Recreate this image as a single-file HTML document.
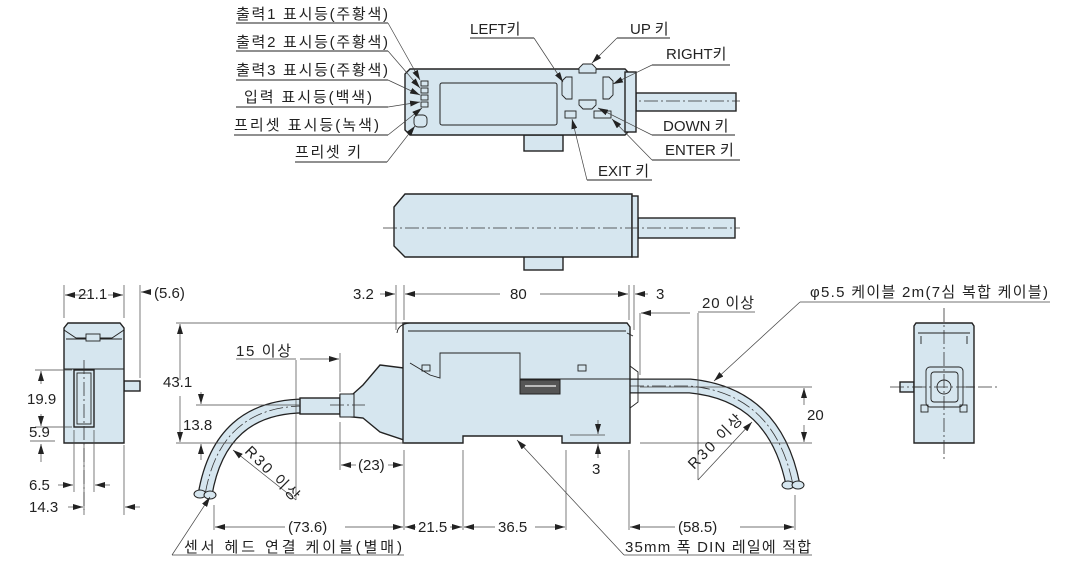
<!DOCTYPE html>
<html><head><meta charset="utf-8"><style>
html,body{margin:0;padding:0;background:#fff;}
svg{display:block;}
text{font-family:"Liberation Sans","Noto Sans CJK KR",sans-serif;font-size:15px;fill:#222;}
.b{fill:#d6e6ef;stroke:#222;stroke-width:1.4;}
.l{stroke:#222;stroke-width:0.9;fill:none;}
.t{stroke:#444;stroke-width:0.7;fill:none;}
.c{stroke:#333;stroke-width:0.8;fill:none;stroke-dasharray:14 3 2 3;}
.co{stroke:#222;stroke-width:15;fill:none;}
.ci{stroke:#d6e6ef;stroke-width:12.5;fill:none;}
</style></head><body>
<svg width="1083" height="581" viewBox="0 0 1083 581" xmlns="http://www.w3.org/2000/svg">
<defs><marker id="a" markerWidth="10" markerHeight="6" refX="10" refY="3" orient="auto" markerUnits="userSpaceOnUse"><path d="M0,0 L10,3 L0,6z" fill="#222"/></marker></defs>

<!-- TOP VIEW -->
<rect x="636" y="93" width="100" height="18" class="b"/>
<line x1="600" y1="101" x2="740" y2="101" class="c"/>
<rect x="524" y="135" width="39" height="16" class="b"/>
<path d="M410,69 L625,69 L628,72 L628,132 L625,135 L410,135 L405,130 L405,74 Z" class="b"/>
<rect x="625" y="72" width="11" height="60" class="b"/>
<rect x="440" y="83" width="117" height="42" rx="2" class="b" style="stroke-width:1"/>
<g class="b" style="stroke-width:0.9">
<rect x="421" y="81" width="7" height="5"/><rect x="421" y="88" width="7" height="5"/><rect x="421" y="95" width="7" height="5"/><rect x="421" y="102" width="7" height="5"/>
<rect x="414" y="115" width="13" height="12" rx="4"/>
<path d="M562,81 L566,77 L572,77 L572,99 L566,99 L562,95Z"/>
<path d="M613,81 L609,77 L603,77 L603,99 L609,99 L613,95Z"/>
<path d="M583,64 L592,64 L596,68 L596,73 L579,73 L579,68Z"/>
<path d="M579,100 L596,100 L596,105 L592,109 L583,109 L579,105Z"/>
<rect x="565" y="111" width="11" height="7"/><rect x="594" y="111" width="17" height="7"/>
</g>
<g>
<text x="236" y="19" textLength="152">출력1 표시등(주황색)</text><line x1="236" y1="23" x2="388" y2="23" class="l"/><line x1="388" y1="23" x2="420" y2="80" class="t" marker-end="url(#a)"/>
<text x="236" y="47" textLength="152">출력2 표시등(주황색)</text><line x1="236" y1="51" x2="388" y2="51" class="l"/><line x1="388" y1="51" x2="420" y2="88" class="t" marker-end="url(#a)"/>
<text x="236" y="75" textLength="152">출력3 표시등(주황색)</text><line x1="236" y1="80" x2="388" y2="80" class="l"/><line x1="388" y1="80" x2="420" y2="95" class="t" marker-end="url(#a)"/>
<text x="244" y="102" textLength="128">입력 표시등(백색)</text><line x1="236" y1="107" x2="388" y2="107" class="l"/><line x1="388" y1="107" x2="420" y2="102" class="t" marker-end="url(#a)"/>
<text x="234" y="130" textLength="145">프리셋 표시등(녹색)</text><line x1="234" y1="135" x2="388" y2="135" class="l"/><line x1="388" y1="135" x2="422" y2="108" class="t" marker-end="url(#a)"/>
<text x="295" y="157" textLength="66">프리셋 키</text><line x1="295" y1="162" x2="387" y2="162" class="l"/><line x1="387" y1="162" x2="415" y2="126" class="t" marker-end="url(#a)"/>
<text x="470" y="34">LEFT키</text><line x1="470" y1="38" x2="534" y2="38" class="l"/><line x1="534" y1="38" x2="563" y2="82" class="t" marker-end="url(#a)"/>
<text x="630" y="34">UP 키</text><line x1="617" y1="38" x2="670" y2="38" class="l"/><line x1="617" y1="38" x2="592" y2="63" class="t" marker-end="url(#a)"/>
<text x="666" y="59">RIGHT키</text><line x1="652" y1="65" x2="730" y2="65" class="l"/><line x1="652" y1="65" x2="613" y2="84" class="t" marker-end="url(#a)"/>
<text x="663" y="131">DOWN 키</text><line x1="652" y1="135" x2="735" y2="135" class="l"/><line x1="652" y1="135" x2="598" y2="108" class="t" marker-end="url(#a)"/>
<text x="665" y="155">ENTER 키</text><line x1="652" y1="160" x2="740" y2="160" class="l"/><line x1="652" y1="160" x2="612" y2="119" class="t" marker-end="url(#a)"/>
<text x="598" y="176">EXIT 키</text><line x1="587" y1="180" x2="652" y2="180" class="l"/><line x1="587" y1="180" x2="572" y2="119" class="t" marker-end="url(#a)"/>
</g>

<!-- SECOND VIEW -->
<rect x="638" y="218" width="97" height="20" class="b"/>
<rect x="524" y="255" width="39" height="15" class="b"/>
<path d="M405,194 L632,194 L632,257 L405,257 L394,246 L394,207 Z" class="b"/>
<rect x="632" y="196" width="6" height="61" class="b"/>
<line x1="383" y1="228" x2="740" y2="228" class="c"/>

<!-- LEFT VIEW -->
<rect x="124" y="381" width="16" height="10" class="b"/>
<path d="M68,323 L120,323 L124,328 L124,443 L64,443 L64,328Z" class="b"/>
<path d="M64,330 L76,338 L112,338 L124,330 M66,339 L122,339 M64,369 L124,369" class="l"/>
<rect x="86" y="334" width="14" height="7" class="b" style="stroke-width:0.9"/>
<rect x="74" y="370" width="20" height="57" class="b"/>
<rect x="77" y="373" width="14" height="51" class="l"/>
<line x1="84" y1="360" x2="84" y2="510" class="c"/>
<g class="t">
<line x1="64" y1="285" x2="64" y2="318"/><line x1="124" y1="285" x2="124" y2="318"/>
<line x1="88" y1="295" x2="65" y2="295" marker-end="url(#a)"/><line x1="108" y1="295" x2="123" y2="295" marker-end="url(#a)"/>
<line x1="140" y1="285" x2="140" y2="378"/><line x1="150" y1="292" x2="141" y2="292" marker-end="url(#a)"/>
<line x1="35" y1="370" x2="72" y2="370"/><line x1="35" y1="427" x2="72" y2="427"/>
<line x1="41" y1="384" x2="41" y2="371" marker-end="url(#a)"/><line x1="41" y1="414" x2="41" y2="426" marker-end="url(#a)"/>
<line x1="41" y1="462" x2="41" y2="444" marker-end="url(#a)"/>
<line x1="74" y1="430" x2="74" y2="492"/><line x1="94" y1="430" x2="94" y2="492"/>
<line x1="84" y1="445" x2="84" y2="515"/><line x1="124" y1="445" x2="124" y2="515"/>
<line x1="58" y1="485" x2="73" y2="485" marker-end="url(#a)"/><line x1="110" y1="485" x2="95" y2="485" marker-end="url(#a)"/>
<line x1="68" y1="507" x2="83" y2="507" marker-end="url(#a)"/><line x1="140" y1="507" x2="125" y2="507" marker-end="url(#a)"/>
</g>
<text x="78" y="299">21.1</text><text x="154" y="298">(5.6)</text>
<text x="27" y="404">19.9</text><text x="29" y="437">5.9</text><line x1="30" y1="441" x2="55" y2="441" class="t"/>
<text x="29" y="490">6.5</text><text x="29" y="512">14.3</text>

<!-- SIDE VIEW cables -->
<path d="M305,406 Q220,406 205,495" class="co"/>
<path d="M305,406 Q220,406 205,495" class="ci"/>
<path d="M305,406 Q220,406 205,495" class="c"/>
<ellipse cx="200" cy="494" rx="6" ry="4" class="b" style="stroke-width:1"/><ellipse cx="210" cy="495" rx="6" ry="4" class="b" style="stroke-width:1"/>
<rect x="300" y="398" width="40" height="16" class="b"/>
<path d="M340,395 L353,394 L363,385 L380,365 L404,368 L404,440 L380,432 L363,418 L353,417 L340,416Z" class="b"/>
<rect x="340" y="394" width="14" height="23" class="b" style="stroke-width:1"/>
<path d="M625,386 L690,386 Q775,394 793,485" class="co"/>
<path d="M625,386 L690,386 Q775,394 793,485" class="ci"/>
<path d="M630,386 L690,386 Q775,394 793,485" class="c"/>
<ellipse cx="788" cy="485" rx="6" ry="4" class="b" style="stroke-width:1"/><ellipse cx="798" cy="485" rx="6" ry="4" class="b" style="stroke-width:1"/>
<path d="M403,323 L627,323 L630,327 L630,443 L562,443 L562,436 L463,436 L463,443 L403,443Z" class="b"/>
<path d="M397,333 Q398,324 410,323 M627,333 L633,336 M630,366 L638,372 L638,402 L630,408" class="l"/>
<path d="M408,331 L626,331 M410,363 L430,375 L440,378 L440,353 L520,353 L520,379 L630,379" class="l"/>
<rect x="422" y="365" width="8" height="6" class="l"/><rect x="578" y="365" width="8" height="6" class="l"/>
<rect x="520" y="380" width="40" height="14" fill="#555" stroke="#222"/>
<line x1="525" y1="386" x2="556" y2="386" stroke="#ddd" stroke-width="1.5"/>
<line x1="330" y1="405" x2="365" y2="405" class="c"/>

<g class="t">
<line x1="176" y1="323" x2="404" y2="323"/><line x1="176" y1="443" x2="404" y2="443"/>
<line x1="180" y1="380" x2="180" y2="324" marker-end="url(#a)"/><line x1="180" y1="396" x2="180" y2="442" marker-end="url(#a)"/>
<line x1="196" y1="405" x2="300" y2="405"/>
<line x1="201" y1="392" x2="201" y2="404" marker-end="url(#a)"/>
<line x1="201" y1="460" x2="201" y2="444" marker-end="url(#a)"/>
<line x1="396" y1="285" x2="396" y2="330"/><line x1="404" y1="285" x2="404" y2="320"/>
<line x1="380" y1="294" x2="395" y2="294" marker-end="url(#a)"/>
<line x1="500" y1="294" x2="405" y2="294" marker-end="url(#a)"/><line x1="540" y1="294" x2="628" y2="294" marker-end="url(#a)"/>
<line x1="629" y1="285" x2="629" y2="320"/><line x1="634" y1="285" x2="634" y2="330"/>
<line x1="648" y1="294" x2="635" y2="294" marker-end="url(#a)"/>
<line x1="640" y1="313" x2="640" y2="375"/>
<line x1="690" y1="313" x2="641" y2="313" marker-end="url(#a)"/>
<line x1="698" y1="313" x2="698" y2="480"/>
<line x1="296" y1="360" x2="296" y2="500"/><line x1="340" y1="353" x2="340" y2="392"/>
<line x1="300" y1="359" x2="339" y2="359" marker-end="url(#a)"/>
<line x1="340" y1="422" x2="340" y2="470"/><line x1="404" y1="450" x2="404" y2="530"/>
<line x1="356" y1="465" x2="341" y2="465" marker-end="url(#a)"/><line x1="388" y1="465" x2="403" y2="465" marker-end="url(#a)"/>
<line x1="296" y1="500" x2="233" y2="450" marker-end="url(#a)"/>
<line x1="463" y1="450" x2="463" y2="530"/><line x1="566" y1="450" x2="566" y2="530"/>
<line x1="629" y1="450" x2="629" y2="530"/><line x1="795" y1="495" x2="795" y2="530"/>
<line x1="214" y1="505" x2="214" y2="530"/>
<line x1="285" y1="527" x2="215" y2="527" marker-end="url(#a)"/><line x1="345" y1="527" x2="403" y2="527" marker-end="url(#a)"/>
<line x1="416" y1="527" x2="405" y2="527" marker-end="url(#a)"/><line x1="450" y1="527" x2="462" y2="527" marker-end="url(#a)"/>
<line x1="495" y1="527" x2="464" y2="527" marker-end="url(#a)"/><line x1="535" y1="527" x2="565" y2="527" marker-end="url(#a)"/>
<line x1="675" y1="527" x2="630" y2="527" marker-end="url(#a)"/><line x1="740" y1="527" x2="794" y2="527" marker-end="url(#a)"/>
<line x1="570" y1="435" x2="605" y2="435"/>
<line x1="598" y1="420" x2="598" y2="434" marker-end="url(#a)"/><line x1="598" y1="458" x2="598" y2="444" marker-end="url(#a)"/>
<line x1="640" y1="387" x2="812" y2="387"/><line x1="640" y1="443" x2="812" y2="443"/>
<line x1="804" y1="405" x2="804" y2="388" marker-end="url(#a)"/><line x1="804" y1="425" x2="804" y2="442" marker-end="url(#a)"/>
<line x1="698" y1="480" x2="752" y2="422" marker-end="url(#a)"/>
<line x1="172" y1="555" x2="210" y2="497" marker-end="url(#a)"/><line x1="172" y1="555" x2="404" y2="555"/>
<line x1="624" y1="555" x2="517" y2="440" marker-end="url(#a)"/><line x1="624" y1="555" x2="812" y2="555"/>
<line x1="800" y1="302" x2="1050" y2="302"/>
<line x1="800" y1="302" x2="714" y2="381" marker-end="url(#a)"/>
<line x1="698" y1="312" x2="755" y2="312"/>
</g>
<text x="353" y="299">3.2</text><text x="510" y="299">80</text><text x="656" y="299">3</text>
<text x="702" y="308" textLength="52">20 이상</text>
<text x="236" y="356" textLength="55">15 이상</text><line x1="236" y1="359" x2="296" y2="359" class="t"/>
<text x="163" y="387">43.1</text><text x="183" y="430">13.8</text>
<text x="358" y="470">(23)</text>
<text x="592" y="474">3</text>
<text x="807" y="420">20</text>
<text x="288" y="532">(73.6)</text><text x="418" y="532">21.5</text><text x="498" y="532">36.5</text><text x="678" y="532">(58.5)</text>
<text x="184" y="552" textLength="218">센서 헤드 연결 케이블(별매)</text>
<text x="625" y="552" textLength="186">35mm 폭 DIN 레일에 적합</text>
<text x="810" y="297" textLength="238">φ5.5 케이블 2m(7심 복합 케이블)</text>
<text transform="translate(244,452) rotate(45)" textLength="70">R30 이상</text>
<text transform="translate(694,470) rotate(-45)" textLength="70">R30 이상</text>

<!-- RIGHT VIEW -->
<rect x="900" y="382" width="14" height="10" class="b"/>
<path d="M916,323 L972,323 L974,326 L974,443 L914,443 L914,326Z" class="b"/>
<path d="M918,333 L970,333 M921,336 L921,344 M967,336 L967,344 M914,387 L922,387 M966,387 L974,387" class="l"/>
<rect x="926" y="367" width="37" height="40" rx="4" class="l"/>
<rect x="931" y="372" width="27" height="30" rx="3" class="l"/>
<circle cx="944" cy="387" r="7" class="l"/>
<rect x="921" y="405" width="7" height="7" class="l"/><rect x="960" y="405" width="7" height="7" class="l"/>
<line x1="944" y1="308" x2="944" y2="460" class="c"/><line x1="890" y1="387" x2="1000" y2="387" class="c"/>
</svg>
</body></html>
